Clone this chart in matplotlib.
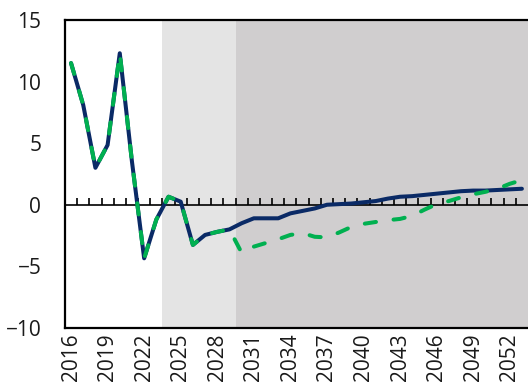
import matplotlib
matplotlib.use("Agg")
import matplotlib.pyplot as plt
import numpy as np

plt.rcParams['font.family'] = ['Open Sans', 'DejaVu Sans']

years = list(range(2016, 2054))

baseline = [11.5, 8.1, 3.0, 4.85, 12.3, 3.5, -4.35, -1.2, 0.65, 0.25,
            -3.26, -2.45, -2.2, -2.0, -1.5, -1.1, -1.1, -1.1, -0.7, -0.5,
            -0.3, 0.0, 0.05, 0.1, 0.2, 0.3, 0.5, 0.65, 0.7, 0.8,
            0.9, 1.0, 1.1, 1.15, 1.15, 1.2, 1.25, 1.3]

scenario = [11.5, 8.1, 3.0, 4.85, 12.3, 3.5, -4.35, -1.2, 0.65, 0.25,
            -3.26, -2.45, -2.2, -2.0, -3.9, -3.4, -3.1, -2.8, -2.45, -2.3,
            -2.6, -2.65, -2.25, -1.8, -1.55, -1.4, -1.25, -1.15, -0.9, -0.4,
            0.05, 0.3, 0.6, 0.85, 1.05, 1.3, 1.7, 2.0]

label_years = list(range(2016, 2054, 3))
forecast_start = 2024
projection_start = 2030

fig = plt.figure(figsize=(5.28, 3.89), dpi=100)
ax = fig.add_axes([0.123, 0.157, 0.877, 0.7916])

x0, x1 = years[0] - 0.5, years[-1] + 0.5
ax.axvspan(forecast_start - 0.5, projection_start - 0.5, color='#e4e4e4', lw=0, zorder=0)
ax.axvspan(projection_start - 0.5, x1, color='#d0cecf', lw=0, zorder=0)

ax.plot(years, baseline, color='#0a2a66', lw=2.9, solid_capstyle='round',
        solid_joinstyle='round', zorder=3)
ax.plot(years, scenario, color='#00b050', lw=2.9, dashes=(2.8, 4.4),
        dash_capstyle='round', zorder=4)

ax.set_xlim(x0, x1)
ax.set_ylim(-10, 15)
ax.set_yticks(np.arange(-10, 16, 5))
ax.tick_params(axis='y', length=0, pad=17, labelsize=15, colors='#1a1a1a')

ax.set_xticks(label_years)
ax.set_xticklabels([str(y) for y in label_years], rotation=90)
ax.tick_params(axis='x', length=0, pad=4, labelsize=15, colors='#1a1a1a')

for side in ('left', 'top', 'bottom'):
    ax.spines[side].set_linewidth(1.6)
    ax.spines[side].set_color('black')
ax.spines['right'].set_visible(False)

# Zero line with category tick marks
zero_axis = ax.secondary_xaxis(0, transform=ax.transData)
zero_axis.set_xticks([y + 0.5 for y in years[:-1]])
zero_axis.set_xticklabels([])
zero_axis.tick_params(axis='x', direction='in', length=5, width=1.2, color='black')
zero_axis.spines['bottom'].set_linewidth(1.2)

fig.savefig('out.png', dpi=100)
